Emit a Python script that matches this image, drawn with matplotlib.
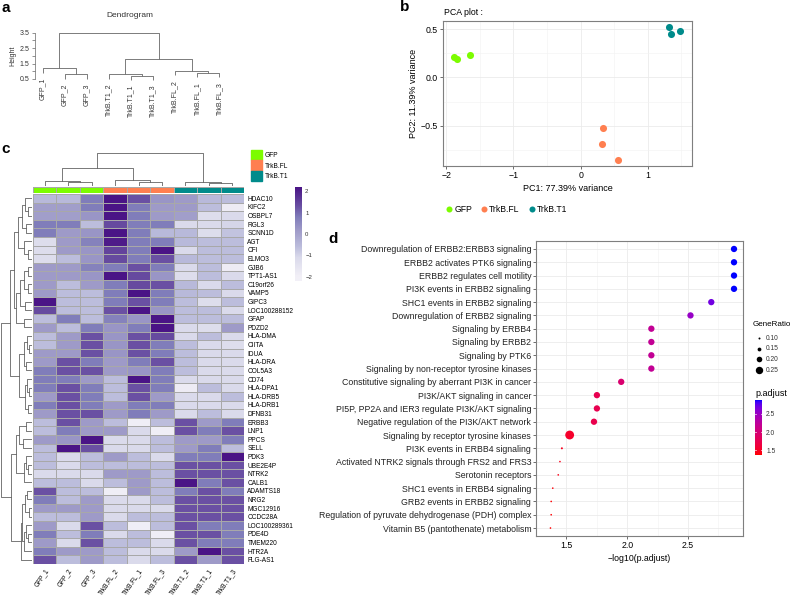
import numpy as np
import matplotlib.pyplot as plt
from matplotlib.colors import LinearSegmentedColormap, ListedColormap, Normalize

plt.rcParams['font.family'] = ['Liberation Sans', 'DejaVu Sans']

# ---------------- data ----------------
# panel a: sample dendrogram (left, right, height); ints are leaf indices
dendro_labels = ['GFP_1', 'GFP_2', 'GFP_3', 'TrkB.T1_2', 'TrkB.T1_1', 'TrkB.T1_3',
                 'TrkB.FL_2', 'TrkB.FL_1', 'TrkB.FL_3']
dendro_tree = ((0, (1, 2, 0.80), 1.19),
               ((3, (4, 5, 0.72), 0.81), (6, (7, 8, 0.90), 1.04), 1.77),
               3.5)

# panel b: PCA
pca_groups = ['GFP', 'TrkB.FL', 'TrkB.T1']
pca_colors = ['#7CFC00', '#FF7F50', '#008B8B']
pc1_gfp = [-1.89, -1.84, -1.65]
pc2_gfp = [0.21, 0.19, 0.23]
pc1_fl = [0.34, 0.32, 0.56]
pc2_fl = [-0.53, -0.69, -0.86]
pc1_t1 = [1.32, 1.34, 1.48]
pc2_t1 = [0.52, 0.45, 0.48]

# panel c: heatmap
hm_samples = ['GFP_1', 'GFP_2', 'GFP_3', 'TrkB.FL_2', 'TrkB.FL_1', 'TrkB.FL_3',
              'TrkB.T1_2', 'TrkB.T1_1', 'TrkB.T1_3']
hm_groups = [0, 0, 0, 1, 1, 1, 2, 2, 2]
genes = ['HDAC10', 'KIFC2', 'OSBPL7', 'RGL3', 'SCNN1D', 'AGT', 'CFI', 'ELMO3', 'GJB6',
         'TPT1-AS1', 'C19orf26', 'VAMP5', 'GIPC3', 'LOC100288152', 'GFAP', 'PDZD2',
         'HLA-DMA', 'CIITA', 'IDUA', 'HLA-DRA', 'COL5A3', 'CD74', 'HLA-DPA1', 'HLA-DRB5',
         'HLA-DRB1', 'DFNB31', 'ERBB3', 'LNP1', 'PPCS', 'SELL', 'PDK3', 'UBE2E4P', 'NTRK2',
         'CALB1', 'ADAMTS18', 'NRG2', 'MGC12916', 'CCDC28A', 'LOC100289361', 'PDE4D',
         'TMEM220', 'HTR2A', 'FLG-AS1']
zscores = np.array([
    [-0.5, -0.5, 0.8, 2.2, 1.3, 0.3, 0.2, -0.5, -0.6],
    [0.1, 0.1, 0.8, 2.2, 0.8, 0.2, 0.2, -0.6, -1.8],
    [0.1, 0.1, 0.3, 2.2, 0.8, 0.2, 0.1, -1.2, -1.1],
    [0.8, 0.8, -0.6, 1.4, 0.8, 0.8, -1.1, -1.1, -1.0],
    [0.8, 0.2, 0.3, 2.2, 0.8, -0.5, -0.5, -1.2, -0.7],
    [-1.2, 0.2, 0.7, 2.1, 0.8, 0.8, -0.5, -0.6, -0.6],
    [-1.2, 0.2, 0.3, 1.5, 0.8, 2.2, -1.1, -0.6, -0.6],
    [-1.2, -0.6, 0.3, 1.4, 0.8, 1.3, -0.5, -0.6, -0.6],
    [0.2, 0.2, 0.7, 0.8, 1.3, 0.8, -1.1, -0.6, -1.8],
    [0.2, 0.2, 0.3, 2.2, 1.4, 0.3, -1.2, -0.6, -1.1],
    [0.2, -0.6, 0.2, 0.8, 1.4, 1.3, -0.5, -1.1, -0.6],
    [0.2, -0.6, -0.6, 0.8, 2.2, 0.8, -0.5, -0.6, -1.1],
    [2.2, -0.6, -0.6, 0.8, 1.3, 0.8, -0.6, -1.2, -0.6],
    [1.4, -0.6, -0.6, 1.3, 2.2, 0.3, -0.6, -0.6, -1.1],
    [-0.6, 0.8, -0.6, 0.7, 0.3, 2.2, -0.6, -0.6, -0.6],
    [0.2, -0.6, 0.8, 0.3, 0.8, 2.2, -1.1, -1.2, 0.2],
    [-0.6, 0.2, 1.3, 0.3, 1.3, 1.4, -1.1, -0.6, -1.1],
    [-0.6, 0.2, 1.3, 0.3, 1.3, 0.8, -0.6, -1.1, -1.2],
    [0.2, 0.2, 1.3, 0.3, 1.3, 0.8, -0.6, -1.1, -1.1],
    [0.2, 1.3, 0.8, 0.2, 0.8, 1.3, -0.6, -1.1, -1.1],
    [0.8, 1.3, 1.3, 0.2, 0.3, 0.8, -0.6, -1.1, -1.1],
    [0.8, 0.8, 0.2, -0.6, 2.2, 0.8, -1.1, -1.1, -1.1],
    [0.8, 1.3, 0.8, -0.6, 1.3, 0.8, -1.8, -0.6, -1.1],
    [0.2, 1.3, 0.8, -0.6, 1.3, 0.2, -1.1, -1.1, -0.6],
    [0.8, 1.3, 0.8, 0.2, 0.8, 0.8, -1.1, -1.1, -1.1],
    [0.2, 1.3, 1.3, 0.2, 0.8, 0.2, -1.1, -0.6, -1.1],
    [-0.6, 1.3, 0.2, -0.6, -1.9, -0.6, 1.3, 0.2, 0.8],
    [-0.6, 0.8, 0.2, 0.2, -1.1, -1.9, 1.3, 0.8, 1.3],
    [0.2, 0.3, 2.2, -1.1, -1.1, -0.6, 0.2, 0.2, 0.8],
    [-0.6, 2.2, 1.3, -1.1, -1.1, -0.6, 0.2, 0.8, -0.6],
    [-0.6, -1.1, -0.6, 0.2, -0.6, -1.1, 0.8, 0.8, 2.2],
    [-0.6, -1.1, -0.6, -0.6, -0.6, -0.6, 1.3, 1.3, 1.3],
    [-1.1, -1.1, -1.1, 0.2, 0.2, -0.6, 1.3, 1.3, 1.3],
    [-0.6, -0.6, -1.1, -0.6, 0.2, -0.6, 2.2, 0.8, 1.3],
    [1.3, -0.6, -0.6, -1.9, 0.2, -0.6, 0.8, 1.3, 0.8],
    [0.8, -0.6, 0.2, -1.1, -1.1, -0.6, 1.3, 1.3, 1.3],
    [0.2, 0.2, 0.2, -1.1, -1.1, -1.1, 1.3, 1.3, 1.3],
    [-0.6, -0.6, 0.2, -1.1, -0.6, -0.6, 1.3, 1.3, 1.3],
    [0.2, -1.1, 1.3, -0.6, -1.9, -0.6, 1.3, 0.8, 0.8],
    [0.8, -0.6, 0.8, -1.1, -0.6, -1.9, 1.3, 1.3, 0.8],
    [0.2, -1.1, 1.3, -0.6, -0.6, -1.1, 1.3, 0.8, 0.8],
    [0.8, 0.2, 0.2, -0.6, -1.1, -1.1, 0.2, 2.2, 1.3],
    [1.3, -0.6, 0.2, -0.6, -1.1, -0.6, 1.3, 0.2, 1.3],
])
col_tree = (((0, (1, 2, 0.11), 0.16), (3, (4, 5, 0.11), 0.18), 0.54),
            (6, (7, 8, 0.10), 0.12), 1.0)
row_A = (((0, (1, 2, .14), .22), (3, 4, .20), .32), (5, (6, 7, .12), .24), .45)
row_BC = ((((8, 9, .14), (10, 11, .13), .26), (12, 13, .22), .38), (14, 15, .24), .50)
row_D = (((16, (17, 18, .10), .16), (19, 20, .18), .27),
         ((21, (22, 23, .10), .15), (24, 25, .12), .22), .40)
row_EF = (((26, 27, .20), (28, 29, .28), .42), ((30, (31, 32, .12), .20), 33, .27), .52)
row_G = (((((34, 35, .17), (36, 37, .10), .22), ((38, (39, 40, .14), .20), 41, .26), .31),
          42, .36))
row_tree = (((row_A, row_BC, .58), row_D, .71), (row_EF, row_G, .68), 1.0)

# panel d: enrichment dot plot
pathways = ['Downregulation of ERBB2:ERBB3 signaling', 'ERBB2 activates PTK6 signaling',
            'ERBB2 regulates cell motility', 'PI3K events in ERBB2 signaling',
            'SHC1 events in ERBB2 signaling', 'Downregulation of ERBB2 signaling',
            'Signaling by ERBB4', 'Signaling by ERBB2', 'Signaling by PTK6',
            'Signaling by non-receptor tyrosine kinases',
            'Constitutive signaling by aberrant PI3K in cancer', 'PI3K/AKT signaling in cancer',
            'PI5P, PP2A and IER3 regulate PI3K/AKT signaling',
            'Negative regulation of the PI3K/AKT network',
            'Signaling by receptor tyrosine kinases', 'PI3K events in ERBB4 signaling',
            'Activated NTRK2 signals through FRS2 and FRS3', 'Serotonin receptors',
            'SHC1 events in ERBB4 signaling', 'GRB2 events in ERBB2 signaling',
            'Regulation of pyruvate dehydrogenase (PDH) complex',
            'Vitamin B5 (pantothenate) metabolism']
neglog_p = [2.879, 2.879, 2.879, 2.879, 2.692, 2.521, 2.199, 2.199, 2.199, 2.199, 1.951,
            1.751, 1.751, 1.727, 1.527, 1.463, 1.447, 1.433, 1.388, 1.375, 1.375, 1.369]
gene_ratio = [0.22, 0.22, 0.22, 0.22, 0.22, 0.22, 0.22, 0.22, 0.22, 0.22, 0.22,
              0.22, 0.22, 0.22, 0.29, 0.10, 0.09, 0.09, 0.09, 0.09, 0.09, 0.09]
ratio_breaks = [0.10, 0.15, 0.20, 0.25]

# ---------------- helpers ----------------
W, H = 791, 595
fig = plt.figure(figsize=(W / 100, H / 100), dpi=100)


def px_axes(left, top, right, bottom):
    return fig.add_axes([left / W, 1 - bottom / H, (right - left) / W, (bottom - top) / H])


def ftext(x, y, s, **kw):
    fig.text(x / W, 1 - y / H, s, **kw)


def tree_segments(node, hang=None):
    # returns (position, height, list of U-shaped segments)
    if isinstance(node, int):
        return node, None, []
    left, right, h = node
    segs, pts = [], []
    for child in (left, right):
        p, ch, s = tree_segments(child, hang)
        segs += s
        if ch is None:
            ch = h - hang if hang is not None else 0.0
        pts.append((p, ch))
    (p1, h1), (p2, h2) = pts
    segs.append(([p1, p1, p2, p2], [h1, h, h, h2]))
    return (p1 + p2) / 2, h, segs


M_RGB = np.array([[0.4124, 0.3576, 0.1805], [0.2126, 0.7152, 0.0722], [0.0193, 0.1192, 0.9505]])
WHITE = np.array([0.95047, 1.0, 1.08883])


def to_lab(rgb):
    rgb = np.asarray(rgb, float)
    lin = np.where(rgb <= 0.04045, rgb / 12.92, ((rgb + 0.055) / 1.055) ** 2.4)
    xyz = M_RGB @ lin / WHITE
    f = np.where(xyz > 0.008856, np.cbrt(xyz), 7.787 * xyz + 16 / 116)
    return np.array([116 * f[1] - 16, 500 * (f[0] - f[1]), 200 * (f[1] - f[2])])


def from_lab(lab):
    fy = (lab[0] + 16) / 116
    f = np.array([fy + lab[1] / 500, fy, fy - lab[2] / 200])
    xyz = np.where(f ** 3 > 0.008856, f ** 3, (f - 16 / 116) / 7.787) * WHITE
    lin = np.clip(np.linalg.solve(M_RGB, xyz), 0, 1)
    return np.clip(np.where(lin <= 0.0031308, 12.92 * lin, 1.055 * lin ** (1 / 2.4) - 0.055), 0, 1)


lab_lo, lab_hi = to_lab([1, 0, 0]), to_lab([0, 0, 1])
red_blue = ListedColormap([from_lab(lab_lo + t * (lab_hi - lab_lo)) for t in np.linspace(0, 1, 256)])

hm_anchor_vals = [-2, -1.1, -0.6, 0.2, 0.8, 1.3, 2.2]
hm_anchor_cols = ['#f2f0f7', '#dadaeb', '#bcbddc', '#9e9ac8', '#807dba', '#6a51a3', '#4a1486']
hm_norm = Normalize(-2, 2.2)
purples = LinearSegmentedColormap.from_list(
    'hm', list(zip([hm_norm(v) for v in hm_anchor_vals], hm_anchor_cols)))

# ---------------- panel a ----------------
ftext(1, 12, 'a', fontsize=11, fontweight='bold')
ax = px_axes(35, 30, 225, 82)
_, _, segs = tree_segments(dendro_tree, hang=0.3)
for xs, ys in segs:
    ax.plot(xs, ys, color='#666666', lw=0.6, solid_capstyle='butt')
leaf_bottom = {}
for xs, ys in segs:
    for x, y in ((xs[0], ys[0]), (xs[3], ys[3])):
        if float(x).is_integer() and (x not in leaf_bottom or y < leaf_bottom[x]):
            leaf_bottom[x] = y
for i, lab in enumerate(dendro_labels):
    ax.text(i, leaf_bottom[i] - 0.3, lab, rotation=90, ha='center', va='top', fontsize=5,
            color='#333333')
ax.set_xlim(-0.35, 8.26)
ax.set_ylim(0.3, 3.68)
ax.set_yticks(np.arange(0.5, 3.51, 0.5))
ax.set_yticklabels(['0.5', '', '1.5', '', '2.5', '', '3.5'], fontsize=5, color='#333333')
ax.tick_params(axis='y', length=2.5, width=0.5, color='#666666', pad=1.5)
ax.set_xticks([])
for side in ['top', 'right', 'bottom']:
    ax.spines[side].set_visible(False)
ax.spines['left'].set_bounds(0.5, 3.5)
ax.spines['left'].set_linewidth(0.5)
ax.spines['left'].set_color('#666666')
ax.set_ylabel('Height', fontsize=5, color='#333333', labelpad=2)
ftext(130, 17, 'Dendrogram', fontsize=6, ha='center', color='#333333')

# ---------------- panel b ----------------
ftext(400, 11, 'b', fontsize=11, fontweight='bold')
ax = px_axes(443, 21, 692, 166)
for pc1, pc2, col, lab in zip([pc1_gfp, pc1_fl, pc1_t1], [pc2_gfp, pc2_fl, pc2_t1],
                              pca_colors, pca_groups):
    ax.scatter(pc1, pc2, s=26, color=col, lw=0, label=lab, zorder=3)
ax.set_xlim(-2.05, 1.66)
ax.set_ylim(-0.92, 0.587)
ax.set_xticks([-2, -1, 0, 1])
ax.set_xticklabels(['\u22122', '\u22121', '0', '1'])
ax.set_yticks([-0.5, 0.0, 0.5])
ax.set_yticklabels(['\u22120.5', '0.0', '0.5'])
ax.set_xticks(np.arange(-2, 1.6, 0.5), minor=True)
ax.set_yticks([-0.75, -0.25, 0.25], minor=True)
ax.grid(True, which='major', color='#ebebeb', lw=0.6)
ax.grid(True, which='minor', color='#f2f2f2', lw=0.4)
ax.set_axisbelow(True)
ax.tick_params(which='major', labelsize=6.3, length=2, width=0.5, color='#333333', pad=1.5)
ax.tick_params(which='minor', length=0)
for sp in ax.spines.values():
    sp.set_color('#7f7f7f')
    sp.set_linewidth(0.8)
ax.set_xlabel('PC1: 77.39% variance', fontsize=6.5, labelpad=3)
ax.set_ylabel('PC2: 11.39% variance', fontsize=6.5, labelpad=2)
ftext(444, 15, 'PCA plot :', fontsize=6.3)
ax.legend(loc='center', bbox_to_anchor=(506 / W, 1 - 209 / H), bbox_transform=fig.transFigure,
          ncol=3, frameon=False, fontsize=6.2, handletextpad=0.1, columnspacing=0.9,
          handlelength=1.0, markerscale=0.85, borderaxespad=0)

# ---------------- panel c ----------------
ftext(1, 153, 'c', fontsize=11, fontweight='bold')
nrow, ncol = zscores.shape
ax_hm = px_axes(33, 194, 244, 564)
ax_hm.pcolormesh(zscores, cmap=purples, norm=hm_norm, edgecolors='#a8a8a8', linewidth=0.4)
ax_hm.set_xlim(0, ncol)
ax_hm.set_ylim(nrow, 0)
ax_hm.yaxis.tick_right()
ax_hm.set_yticks(np.arange(nrow) + 0.5)
ax_hm.set_yticklabels(genes, fontsize=4.7)
ax_hm.set_xticks(np.arange(ncol) + 0.5)
ax_hm.set_xticklabels(hm_samples, fontsize=4.7, rotation=55, ha='right', rotation_mode='anchor')
ax_hm.tick_params(length=0, pad=2.5)
for sp in ax_hm.spines.values():
    sp.set_visible(False)

ax_an = px_axes(33, 187, 244, 193)
ax_an.pcolormesh(np.array([hm_groups]), cmap=ListedColormap(pca_colors), vmin=-0.5, vmax=2.5,
                 edgecolors='#a8a8a8', linewidth=0.4)
ax_an.set_xlim(0, ncol)
ax_an.axis('off')

ax_cd = px_axes(33, 152, 244, 186)
_, _, segs = tree_segments(col_tree)
for xs, ys in segs:
    ax_cd.plot(np.array(xs) + 0.5, ys, color='#444444', lw=0.5, solid_capstyle='butt')
ax_cd.set_xlim(0, ncol)
ax_cd.set_ylim(0, 1.02)
ax_cd.axis('off')

ax_rd = px_axes(0, 194, 32, 564)
_, _, segs = tree_segments(row_tree)
for ys, xs in segs:
    ax_rd.plot(xs, np.array(ys) + 0.5, color='#444444', lw=0.5, solid_capstyle='butt')
ax_rd.set_ylim(nrow, 0)
ax_rd.set_xlim(1.02, 0)
ax_rd.axis('off')

# annotation legend
for i, (grp, col) in enumerate(zip(pca_groups, pca_colors)):
    y0 = 150 + i * 10.5
    fig.patches.append(plt.Rectangle((251 / W, 1 - (y0 + 10) / H), 11 / W, 10 / H,
                                     transform=fig.transFigure, color=col, zorder=2))
    ftext(265, y0 + 5.5, grp, fontsize=4.8, va='center')

# colour key
ax_ck = px_axes(295, 187, 301, 281)
ck_vals = np.linspace(-2.2, 2.2, 200)
ax_ck.imshow(ck_vals[:, None], cmap=purples, norm=hm_norm, aspect='auto', origin='lower',
             extent=(0, 1, -2.2, 2.2))
ax_ck.set_xticks([])
ax_ck.yaxis.tick_right()
ax_ck.set_yticks([-2, -1, 0, 1, 2])
ax_ck.set_yticklabels(['\u22122', '\u22121', '0', '1', '2'], fontsize=4.3, color='#333333')
ax_ck.tick_params(length=0, pad=3)
for sp in ax_ck.spines.values():
    sp.set_visible(False)

# ---------------- panel d ----------------
ftext(328, 243, 'd', fontsize=11, fontweight='bold')
ax = px_axes(536, 241, 743, 536)
n = len(pathways)
ypos = np.arange(n)
pmin, pmax = min(neglog_p), max(neglog_p)


def ratio_to_s(r):
    d_px = 2 + (np.asarray(r) - 0.10) * 36
    return (np.clip(d_px, 1.4, None) * 0.72) ** 2


ax.scatter(neglog_p, ypos, s=ratio_to_s(gene_ratio), c=neglog_p, cmap=red_blue,
           vmin=pmin, vmax=pmax, lw=0, zorder=3)
ax.set_ylim(n - 1 + 0.6, -0.6)
ax.set_xlim(1.295, 2.953)
ax.set_yticks(ypos)
ax.set_yticklabels(pathways, fontsize=5.6, color='#222222')
ax.set_xticks([1.5, 2.0, 2.5])
ax.set_xticks([1.25, 1.75, 2.25, 2.75], minor=True)
ax.grid(True, which='major', color='#ebebeb', lw=0.6)
ax.grid(True, which='minor', axis='x', color='#f2f2f2', lw=0.4)
ax.set_axisbelow(True)
ax.tick_params(which='major', labelsize=6.3, length=2, width=0.5, color='#333333', pad=1.5)
ax.tick_params(which='minor', length=0)
for sp in ax.spines.values():
    sp.set_color('#7f7f7f')
    sp.set_linewidth(0.8)
ax.set_xlabel('\u2212log10(p.adjust)', fontsize=6.3, labelpad=3)

# legends of panel d
ax_lg = px_axes(745, 300, 791, 470)
ax_lg.set_xlim(745, 791)
ax_lg.set_ylim(470, 300)
ax_lg.axis('off')
ax_lg.text(753, 324, 'GeneRatio', fontsize=5.8, va='center', clip_on=False)
for i, r in enumerate(ratio_breaks):
    yy = 338 + i * 10.7
    ax_lg.scatter([759], [yy], s=ratio_to_s(r), color='black', lw=0)
    ax_lg.text(766, yy, '%.2f' % r, fontsize=4.8, va='center', color='#333333')
ax_lg.text(755, 393, 'p.adjust', fontsize=6.5, va='center')

ax_pb = px_axes(755, 400, 762, 455)
grad = np.linspace(pmin, pmax, 200)
ax_pb.imshow(grad[:, None], cmap=red_blue, vmin=pmin, vmax=pmax, aspect='auto',
             origin='lower', extent=(0, 1, pmin, pmax))
ax_pb.set_xticks([])
ax_pb.yaxis.tick_right()
ax_pb.set_yticks([1.5, 2.0, 2.5])
ax_pb.set_yticklabels(['1.5', '2.0', '2.5'], fontsize=4.8, color='#333333')
ax_pb.tick_params(length=0, pad=3)
for t in [1.5, 2.0, 2.5]:
    ax_pb.plot([0, 0.2], [t, t], color='white', lw=0.5)
    ax_pb.plot([0.8, 1], [t, t], color='white', lw=0.5)
for sp in ax_pb.spines.values():
    sp.set_visible(False)

fig.savefig('out.png', dpi=100)
